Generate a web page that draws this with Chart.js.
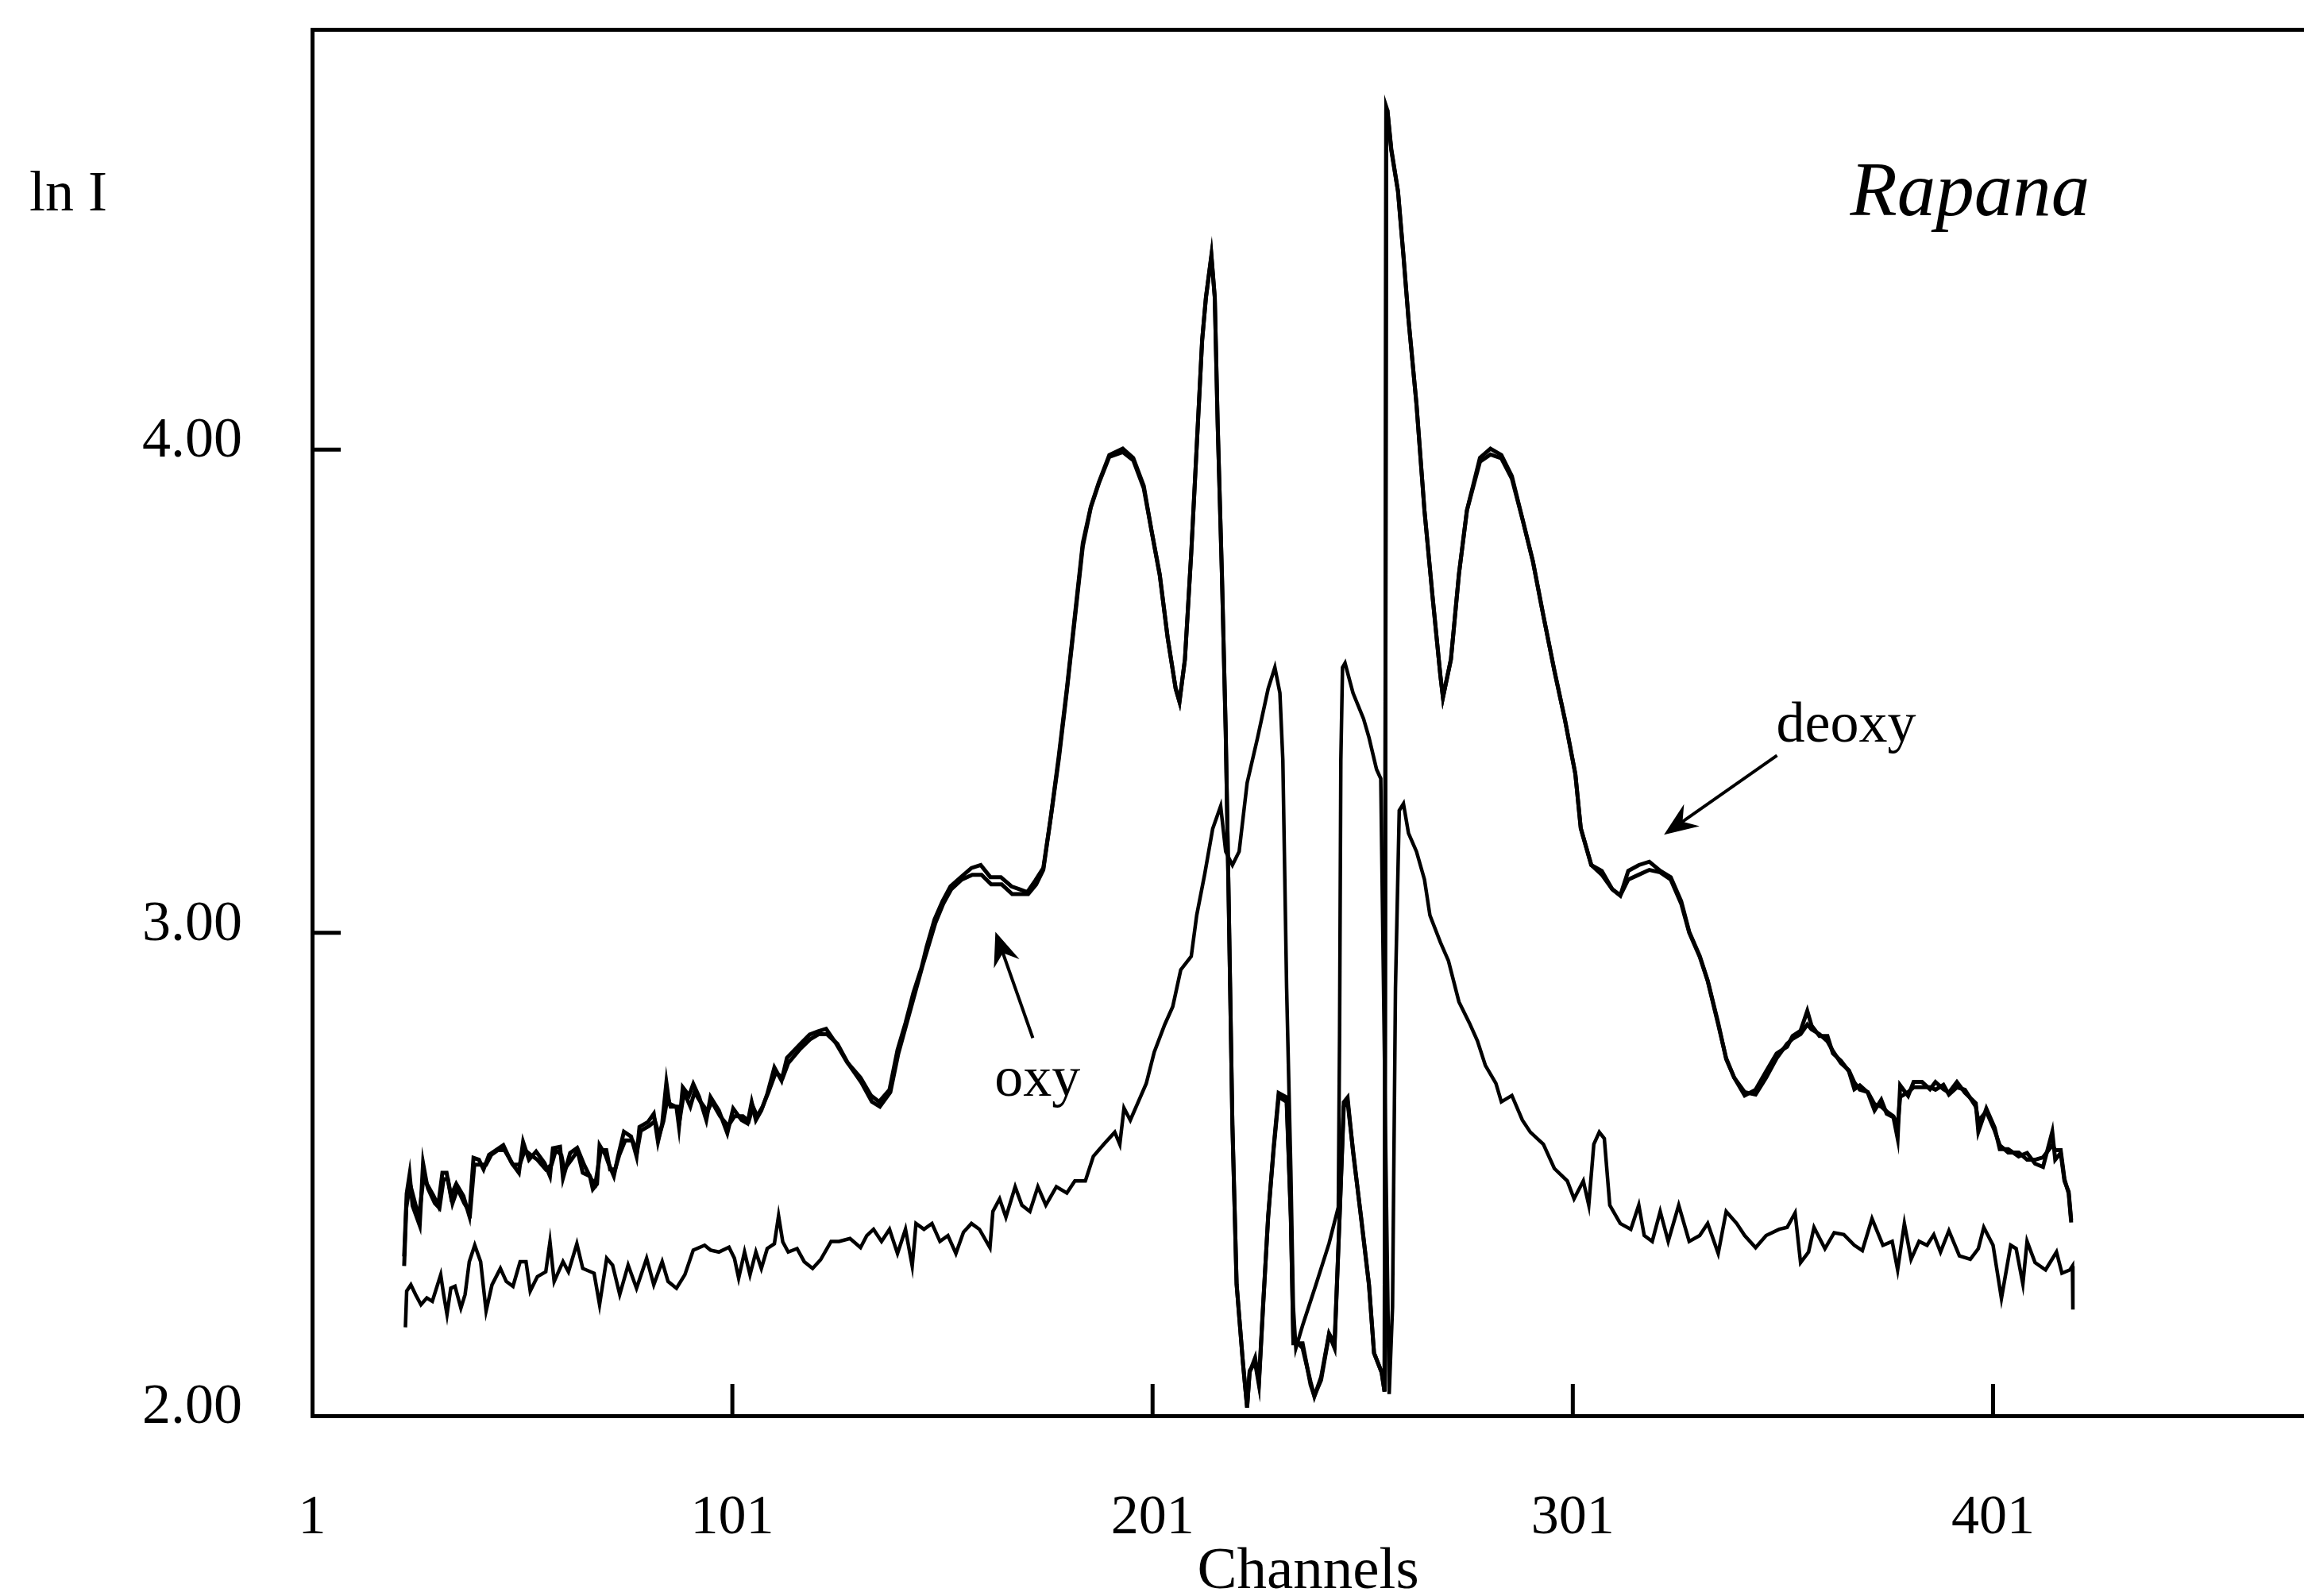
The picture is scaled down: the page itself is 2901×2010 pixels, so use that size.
<!DOCTYPE html>
<html>
<head>
<meta charset="utf-8">
<script src="https://cdn.jsdelivr.net/npm/chart.js@4.4.1/dist/chart.umd.min.js"></script>
<style>
  html, body { margin: 0; padding: 0; background: #fff; }
  canvas { display: block; }
</style>
</head>
<body>
<canvas id="chart" width="2901" height="2010"></canvas>
<script>
// [channel, ln I]
const oxy = [
  [22.9,2.33],[23.5,2.46],[24.2,2.50],[24.9,2.435],[26.6,2.394],[27.4,2.523],[28.3,2.48],[29.9,2.455],[31.0,2.435],[32.0,2.503],
  [33.0,2.503],[34.0,2.455],[35.3,2.48],[37.0,2.455],[38.4,2.414],[39.4,2.534],[40.7,2.53],[41.8,2.51],[43.1,2.54],[44.8,2.55],
  [46.5,2.56],[48.5,2.523],[50.2,2.503],[51.2,2.567],[52.6,2.53],[54.3,2.547],[56.3,2.523],[57.6,2.496],[58.3,2.554],[60.0,2.557],
  [60.7,2.492],[62.4,2.544],[64.0,2.554],[65.4,2.503],[67.1,2.496],[67.8,2.469],[68.8,2.48],[69.4,2.56],[70.8,2.54],[71.5,2.523],
  [72.8,2.496],[73.8,2.537],[75.2,2.588],[76.9,2.578],[78.2,2.537],[78.9,2.598],[80.9,2.608],[82.3,2.625],[83.3,2.567],[84.3,2.605],
  [85.3,2.69],[86.0,2.646],[87.7,2.639],[88.3,2.598],[89.2,2.68],[90.7,2.663],[91.7,2.687],[93.1,2.66],[94.8,2.612],[95.8,2.66],
  [97.8,2.632],[99.8,2.585],[101.2,2.636],[103.2,2.612],[104.6,2.605],[105.6,2.649],[106.6,2.612],[107.9,2.632],[109.3,2.666],[111.0,2.721],
  [112.7,2.694],[114.0,2.741],[117.0,2.768],[119.4,2.789],[121.4,2.796],[123.3,2.801],[125.8,2.769],[128.3,2.732],[131.5,2.70],[134.0,2.663],
  [135.9,2.65],[138.4,2.675],[140.3,2.757],[142.2,2.813],[144.1,2.876],[146.0,2.927],[147.2,2.97],[149.1,3.027],[151.0,3.065],[152.9,3.096],
  [155.4,3.115],[157.9,3.134],[160.1,3.14],[162.4,3.115],[164.9,3.115],[167.4,3.096],[169.3,3.09],[171.2,3.084],[173.1,3.108],[175.0,3.134],
  [176.8,3.241],[178.7,3.367],[180.6,3.505],[182.5,3.656],[184.4,3.807],[186.3,3.882],[188.2,3.932],[190.7,3.989],[193.9,4.002],[196.4,3.983],
  [198.9,3.925],[200.8,3.83],[202.7,3.742],[204.6,3.61],[206.5,3.505],[207.4,3.478],[208.7,3.566],[210.2,3.786],[211.5,4.006],[212.8,4.227],
  [213.7,4.315],[215.0,4.403],[215.8,4.315],[216.5,4.05],[217.5,3.742],[218.4,3.418],[219.1,3.074],[220.0,2.602],[221.0,2.272],[222.5,2.11],
  [223.5,2.017],[224.1,2.093],[225.4,2.11],[226.3,2.064],[227.3,2.225],[228.5,2.413],[229.8,2.555],[231.0,2.668],[232.9,2.659],[233.9,2.413],
  [234.5,2.15],[236.7,2.15],[238.6,2.064],[239.5,2.041],[241.1,2.074],[243.0,2.168],[244.3,2.14],[245.5,2.413],[246.5,2.649],[247.4,2.659],
  [248.7,2.546],[250.6,2.413],[252.5,2.272],[253.7,2.13],[255.5,2.09],[256.2,2.05],[256.6,4.71],[256.9,4.702],[257.8,4.623],[259.4,4.535],
  [260.7,4.403],[261.9,4.27],[263.8,4.094],[265.7,3.874],[267.6,3.698],[269.5,3.531],[270.1,3.487],[272.0,3.566],[273.9,3.742],[275.8,3.874],
  [278.9,3.983],[281.4,4.002],[284.0,3.989],[286.5,3.945],[289.0,3.857],[291.5,3.769],[294.0,3.656],[296.6,3.543],[299.1,3.442],[301.6,3.329],
  [302.9,3.216],[305.4,3.14],[307.9,3.128],[310.4,3.09],[312.3,3.077],[314.2,3.128],[316.7,3.14],[319.2,3.147],[321.8,3.128],[324.3,3.115],
  [326.8,3.065],[328.7,3.002],[331.2,2.952],[333.1,2.901],[335.6,2.813],[337.5,2.738],[339.4,2.70],[341.9,2.663],[344.5,2.675],[347.0,2.713],
  [349.5,2.75],[352.0,2.764],[353.3,2.786],[355.2,2.797],[356.8,2.838],[357.8,2.808],[359.7,2.786],[361.6,2.786],[362.9,2.75],[364.8,2.735],
  [366.7,2.713],[368.0,2.676],[369.3,2.684],[371.2,2.669],[372.8,2.632],[374.4,2.654],[375.7,2.625],[377.3,2.618],[378.3,2.574],[378.9,2.684],
  [380.8,2.662],[382.1,2.691],[384.1,2.691],[386.0,2.676],[387.3,2.691],[389.2,2.676],[390.5,2.669],[392.4,2.691],[394.3,2.669],[396.9,2.647],
  [397.5,2.588],[399.4,2.636],[401.4,2.596],[402.6,2.552],[404.6,2.552],[407.1,2.537],[409.1,2.544],[411.0,2.522],[412.9,2.515],[415.1,2.588],
  [415.8,2.53],[417.1,2.544],[418.0,2.486],[419.0,2.464],[419.6,2.405]
];

const deoxy = [
  [22.9,2.31],[23.4,2.43],[24.3,2.48],[25.2,2.45],[26.4,2.41],[27.6,2.50],[28.6,2.47],[30.2,2.44],[31.3,2.43],[32.3,2.49],
  [33.3,2.49],[34.4,2.44],[35.6,2.47],[37.2,2.44],[38.6,2.42],[39.6,2.52],[41.0,2.52],[42.4,2.52],[43.6,2.54],[45.2,2.55],
  [46.8,2.55],[48.8,2.52],[50.4,2.52],[51.6,2.55],[53.0,2.54],[54.6,2.53],[56.6,2.51],[58.0,2.52],[59.0,2.55],[60.3,2.54],
  [61.0,2.51],[62.7,2.53],[64.3,2.55],[65.7,2.52],[67.4,2.49],[68.4,2.48],[69.7,2.55],[71.0,2.55],[71.9,2.51],[73.1,2.51],
  [74.1,2.54],[75.5,2.57],[77.2,2.57],[78.4,2.55],[79.2,2.59],[81.2,2.60],[82.6,2.61],[83.6,2.58],[84.6,2.61],[85.6,2.66],
  [86.3,2.64],[88.0,2.64],[88.6,2.62],[89.5,2.67],[91.0,2.64],[92.0,2.67],[93.4,2.65],[95.1,2.63],[96.1,2.65],[98.1,2.62],
  [100.0,2.60],[101.5,2.62],[103.5,2.62],[104.9,2.61],[105.9,2.64],[106.9,2.62],[108.2,2.64],[109.6,2.67],[111.3,2.71],[113.0,2.70],
  [114.3,2.73],[117.2,2.76],[119.6,2.78],[121.6,2.79],[123.5,2.79],[126.0,2.77],[128.5,2.73],[131.7,2.69],[134.2,2.65],[136.1,2.64],
  [138.6,2.67],[140.5,2.75],[142.4,2.81],[144.3,2.87],[146.2,2.93],[149.3,3.02],[151.2,3.06],[153.1,3.09],[155.6,3.11],[158.1,3.12],
  [160.3,3.12],[162.6,3.10],[165.1,3.10],[167.6,3.08],[169.5,3.08],[171.4,3.08],[173.3,3.10],[175.0,3.13],[176.8,3.24],[178.7,3.36],
  [180.6,3.50],[182.5,3.65],[184.4,3.80],[186.3,3.88],[188.2,3.93],[190.7,3.985],[193.9,3.995],[196.4,3.978],[198.9,3.92],[200.8,3.83],
  [202.7,3.74],[204.6,3.61],[206.5,3.505],[207.4,3.478],[208.7,3.566],[210.2,3.786],[211.5,4.006],[212.8,4.227],[213.7,4.315],[215.0,4.40],
  [215.8,4.315],[216.5,4.05],[217.5,3.742],[218.4,3.418],[219.1,3.074],[220.0,2.602],[221.0,2.272],[222.5,2.11],[223.5,2.017],[224.1,2.09],
  [225.4,2.12],[226.3,2.07],[227.3,2.23],[228.5,2.41],[229.8,2.55],[231.0,2.66],[232.9,2.65],[233.9,2.41],[234.5,2.16],[236.7,2.14],
  [238.6,2.07],[239.5,2.04],[241.1,2.08],[243.0,2.17],[244.3,2.15],[245.5,2.41],[246.5,2.64],[247.4,2.65],[248.7,2.55],[250.6,2.41],
  [252.5,2.27],[253.7,2.13],[255.5,2.09],[256.2,2.05],[256.6,4.70],[256.9,4.70],[257.8,4.62],[259.4,4.535],[260.7,4.40],[261.9,4.27],
  [263.8,4.094],[265.7,3.874],[267.6,3.698],[269.5,3.531],[270.1,3.487],[272.0,3.566],[273.9,3.742],[275.8,3.874],[278.9,3.975],[281.4,3.99],
  [284.0,3.982],[286.5,3.94],[289.0,3.857],[291.5,3.769],[294.0,3.656],[296.6,3.543],[299.1,3.442],[301.6,3.329],[302.9,3.216],[305.4,3.14],
  [307.9,3.12],[310.4,3.09],[312.3,3.077],[314.2,3.11],[316.7,3.12],[319.2,3.13],[321.8,3.125],[324.3,3.11],[326.8,3.06],[328.7,3.00],
  [331.2,2.95],[333.1,2.90],[335.6,2.81],[337.5,2.74],[339.4,2.70],[341.9,2.67],[344.5,2.665],[347.0,2.70],[349.5,2.74],[352.0,2.77],
  [353.3,2.78],[355.2,2.79],[356.8,2.81],[357.8,2.80],[359.7,2.79],[361.6,2.775],[362.9,2.755],[364.8,2.73],[366.7,2.715],[368.0,2.69],
  [369.3,2.675],[371.2,2.67],[372.8,2.645],[374.4,2.64],[375.7,2.63],[377.3,2.62],[378.3,2.60],[378.9,2.66],[380.8,2.67],[382.1,2.68],
  [384.1,2.68],[386.0,2.68],[387.3,2.675],[389.2,2.685],[390.5,2.665],[392.4,2.68],[394.3,2.675],[396.9,2.64],[397.5,2.61],[399.4,2.63],
  [401.4,2.59],[402.6,2.56],[404.6,2.545],[407.1,2.545],[409.1,2.53],[411.0,2.53],[412.9,2.535],[415.1,2.56],[415.8,2.55],[417.1,2.55],
  [418.0,2.49],[419.0,2.46],[419.6,2.40]
];

const background = [
  [23.2,2.183],[23.5,2.258],[24.5,2.271],[25.6,2.251],[26.9,2.23],[28.3,2.244],[29.6,2.237],[31.6,2.292],[32.3,2.251],[33.1,2.21],
  [34.0,2.264],[35.0,2.268],[36.4,2.223],[37.4,2.251],[38.4,2.319],[39.7,2.353],[41.1,2.319],[42.4,2.217],[43.8,2.271],[45.8,2.305],
  [47.2,2.278],[48.8,2.268],[50.5,2.319],[51.9,2.319],[52.9,2.258],[54.6,2.288],[56.6,2.298],[57.6,2.36],[58.6,2.278],[60.7,2.319],
  [62.0,2.298],[64.0,2.356],[65.4,2.305],[68.1,2.295],[69.4,2.23],[71.1,2.326],[72.5,2.312],[74.2,2.251],[76.2,2.312],[78.2,2.264],
  [80.6,2.326],[82.3,2.271],[84.3,2.319],[85.7,2.278],[87.7,2.264],[89.7,2.292],[91.7,2.343],[94.4,2.353],[95.8,2.343],[97.8,2.339],
  [100.2,2.349],[101.5,2.326],[102.5,2.285],[103.9,2.339],[105.2,2.292],[106.6,2.339],[107.9,2.305],[109.3,2.346],[111.0,2.356],[112.0,2.414],
  [113.0,2.36],[114.3,2.339],[116.4,2.346],[118.1,2.319],[120.1,2.305],[122.0,2.323],[124.5,2.361],[126.4,2.361],[129.0,2.367],[131.5,2.348],
  [133.0,2.373],[134.6,2.386],[136.5,2.361],[138.4,2.386],[140.3,2.336],[142.2,2.386],[143.8,2.31],[144.7,2.398],[146.6,2.386],[148.5,2.398],
  [150.4,2.361],[152.3,2.373],[154.2,2.336],[156.0,2.38],[157.9,2.398],[159.8,2.386],[162.3,2.348],[163.0,2.423],[164.6,2.449],[166.1,2.411],
  [168.3,2.474],[169.9,2.436],[171.8,2.423],[173.7,2.474],[175.6,2.436],[178.1,2.474],[180.6,2.461],[182.5,2.486],[185.0,2.486],[186.9,2.537],
  [189.4,2.562],[192.0,2.587],[193.2,2.562],[194.2,2.637],[195.7,2.612],[197.6,2.65],[199.5,2.688],[201.4,2.753],[203.9,2.81],[205.8,2.847],
  [207.7,2.923],[210.2,2.951],[211.5,3.036],[213.4,3.121],[215.3,3.215],[217.2,3.262],[218.4,3.168],[220.0,3.14],[221.6,3.168],[223.5,3.31],
  [226.0,3.404],[228.5,3.505],[230.1,3.549],[231.3,3.496],[232.0,3.357],[232.9,2.885],[233.9,2.508],[234.5,2.225],[235.1,2.14],[236.7,2.187],
  [239.9,2.272],[243.0,2.357],[245.2,2.432],[245.5,2.791],[245.8,3.357],[246.2,3.549],[246.8,3.558],[248.7,3.496],[251.2,3.443],[252.5,3.404],
  [254.3,3.338],[255.3,3.319],[256.4,2.6],[257.3,2.045],[258.1,2.225],[258.8,2.885],[259.7,3.253],[260.7,3.267],[261.9,3.206],[263.8,3.168],
  [265.7,3.11],[267.0,3.036],[269.5,2.98],[271.4,2.942],[273.9,2.857],[276.4,2.813],[278.3,2.776],[280.2,2.725],[282.7,2.688],[284.0,2.65],
  [286.5,2.663],[289.0,2.612],[290.9,2.587],[294.0,2.562],[296.6,2.512],[299.7,2.486],[301.3,2.449],[303.5,2.486],[304.8,2.436],[306.0,2.562],
  [307.3,2.587],[308.5,2.574],[309.8,2.436],[312.3,2.398],[314.8,2.386],[316.7,2.436],[318.0,2.373],[319.9,2.361],[321.8,2.423],[323.7,2.361],
  [326.2,2.436],[328.7,2.361],[331.2,2.373],[333.1,2.398],[335.6,2.336],[337.5,2.423],[340.0,2.398],[341.9,2.373],[344.5,2.348],[347.0,2.373],
  [350.1,2.386],[352.0,2.39],[353.9,2.42],[355.2,2.317],[357.1,2.339],[358.4,2.39],[361.0,2.346],[363.2,2.379],[365.5,2.375],[368.0,2.353],
  [369.9,2.342],[372.2,2.408],[374.8,2.353],[377.0,2.361],[378.3,2.302],[379.9,2.398],[381.5,2.324],[383.4,2.361],[385.3,2.353],[386.9,2.375],
  [388.5,2.339],[390.5,2.383],[393.0,2.331],[395.6,2.324],[397.5,2.346],[398.8,2.39],[401.0,2.353],[403.0,2.243],[405.2,2.353],[406.5,2.346],
  [408.1,2.273],[409.1,2.361],[411.0,2.317],[413.5,2.302],[416.1,2.339],[417.4,2.295],[419.3,2.302],[419.9,2.31],[420.0,2.22]
];

const xTickValues = [1, 101, 201, 301, 401];
const yTickValues = [2, 3, 4];
const innerXTicks = [101, 201, 301, 401];
const innerYTicks = [3, 4];

const SERIF = '"Liberation Serif", "Times New Roman", serif';

function toPoints(pairs) {
  return pairs.map(p => ({ x: p[0], y: p[1] }));
}

function arrow(ctx, x1, y1, x2, y2) {
  const a = Math.atan2(y2 - y1, x2 - x1);
  const len = 46, half = 0.38;
  ctx.lineWidth = 4;
  ctx.beginPath();
  ctx.moveTo(x1, y1);
  ctx.lineTo(x2 - Math.cos(a) * 20, y2 - Math.sin(a) * 20);
  ctx.stroke();
  ctx.beginPath();
  ctx.moveTo(x2, y2);
  ctx.lineTo(x2 - len * Math.cos(a - half), y2 - len * Math.sin(a - half));
  ctx.lineTo(x2 - len * 0.62 * Math.cos(a), y2 - len * 0.62 * Math.sin(a));
  ctx.lineTo(x2 - len * Math.cos(a + half), y2 - len * Math.sin(a + half));
  ctx.closePath();
  ctx.fill();
}

// inward ticks, labels and arrows
const annotate = {
  id: 'annotate',
  afterDraw(chart) {
    const { ctx, chartArea: area, scales: { x, y } } = chart;
    ctx.save();
    ctx.strokeStyle = '#000';
    ctx.fillStyle = '#000';
    ctx.lineWidth = 5;
    ctx.beginPath();
    innerXTicks.forEach(v => {
      const px = x.getPixelForValue(v);
      ctx.moveTo(px, area.bottom);
      ctx.lineTo(px, area.bottom - 40);
    });
    innerYTicks.forEach(v => {
      const py = y.getPixelForValue(v);
      ctx.moveTo(area.left, py);
      ctx.lineTo(area.left + 36, py);
    });
    ctx.stroke();

    ctx.textAlign = 'left';
    ctx.textBaseline = 'alphabetic';
    ctx.font = '72px ' + SERIF;
    ctx.fillText('ln I', area.left - 356, y.getPixelForValue(4.495));
    ctx.fillText('oxy', x.getPixelForValue(163.4), y.getPixelForValue(2.662));
    ctx.fillText('deoxy', x.getPixelForValue(349.4), y.getPixelForValue(3.395));
    ctx.font = 'italic 97px ' + SERIF;
    ctx.fillText('Rapana', x.getPixelForValue(367), y.getPixelForValue(4.485));

    arrow(ctx, x.getPixelForValue(172.5), y.getPixelForValue(2.782),
               x.getPixelForValue(163.6), y.getPixelForValue(3.002));
    arrow(ctx, x.getPixelForValue(349.6), y.getPixelForValue(3.367),
               x.getPixelForValue(322.7), y.getPixelForValue(3.203));
    ctx.restore();
  }
};

const lineStyle = (w) => ({
  borderColor: '#000',
  borderWidth: w,
  pointRadius: 0,
  tension: 0,
  fill: false
});

new Chart(document.getElementById('chart').getContext('2d'), {
  type: 'line',
  data: {
    datasets: [
      { label: 'oxy', data: toPoints(oxy), ...lineStyle(5) },
      { label: 'deoxy', data: toPoints(deoxy), ...lineStyle(5) },
      { label: 'background', data: toPoints(background), ...lineStyle(4.5) }
    ]
  },
  options: {
    responsive: false,
    devicePixelRatio: 1,
    animation: false,
    layout: { padding: { top: 37, right: 0, bottom: 0, left: 0 } },
    plugins: { legend: { display: false }, tooltip: { enabled: false } },
    scales: {
      x: {
        type: 'linear',
        min: 1,
        max: 475,
        grid: { display: false },
        border: { display: true, color: '#000', width: 5 },
        afterBuildTicks: s => { s.ticks = xTickValues.map(v => ({ value: v })); },
        afterFit: s => { s.height = 227; s.paddingLeft = 0; s.paddingRight = 0; },
        ticks: {
          padding: 80,
          color: '#000',
          font: { family: SERIF, size: 70 },
          maxRotation: 0,
          callback: v => String(v)
        },
        title: {
          display: true,
          text: 'Channels',
          color: '#000',
          font: { family: SERIF, size: 75, lineHeight: 1 },
          padding: { top: 0, bottom: -8 }
        }
      },
      top: {
        type: 'linear',
        position: 'top',
        grid: { display: false },
        ticks: { display: false },
        border: { display: true, color: '#000', width: 5 },
        afterFit: s => { s.height = 0; s.paddingLeft = 0; s.paddingRight = 0; }
      },
      y: {
        min: 2,
        max: 4.87,
        grid: { display: false },
        border: { display: true, color: '#000', width: 5 },
        afterBuildTicks: s => { s.ticks = yTickValues.map(v => ({ value: v })); },
        afterFit: s => { s.width = 393; s.paddingTop = 0; s.paddingBottom = 0; },
        ticks: {
          padding: 80,
          labelOffset: -10,
          color: '#000',
          font: { family: SERIF, size: 72 },
          callback: v => Number(v).toFixed(2)
        }
      }
    }
  },
  plugins: [annotate]
});
</script>
</body>
</html>
